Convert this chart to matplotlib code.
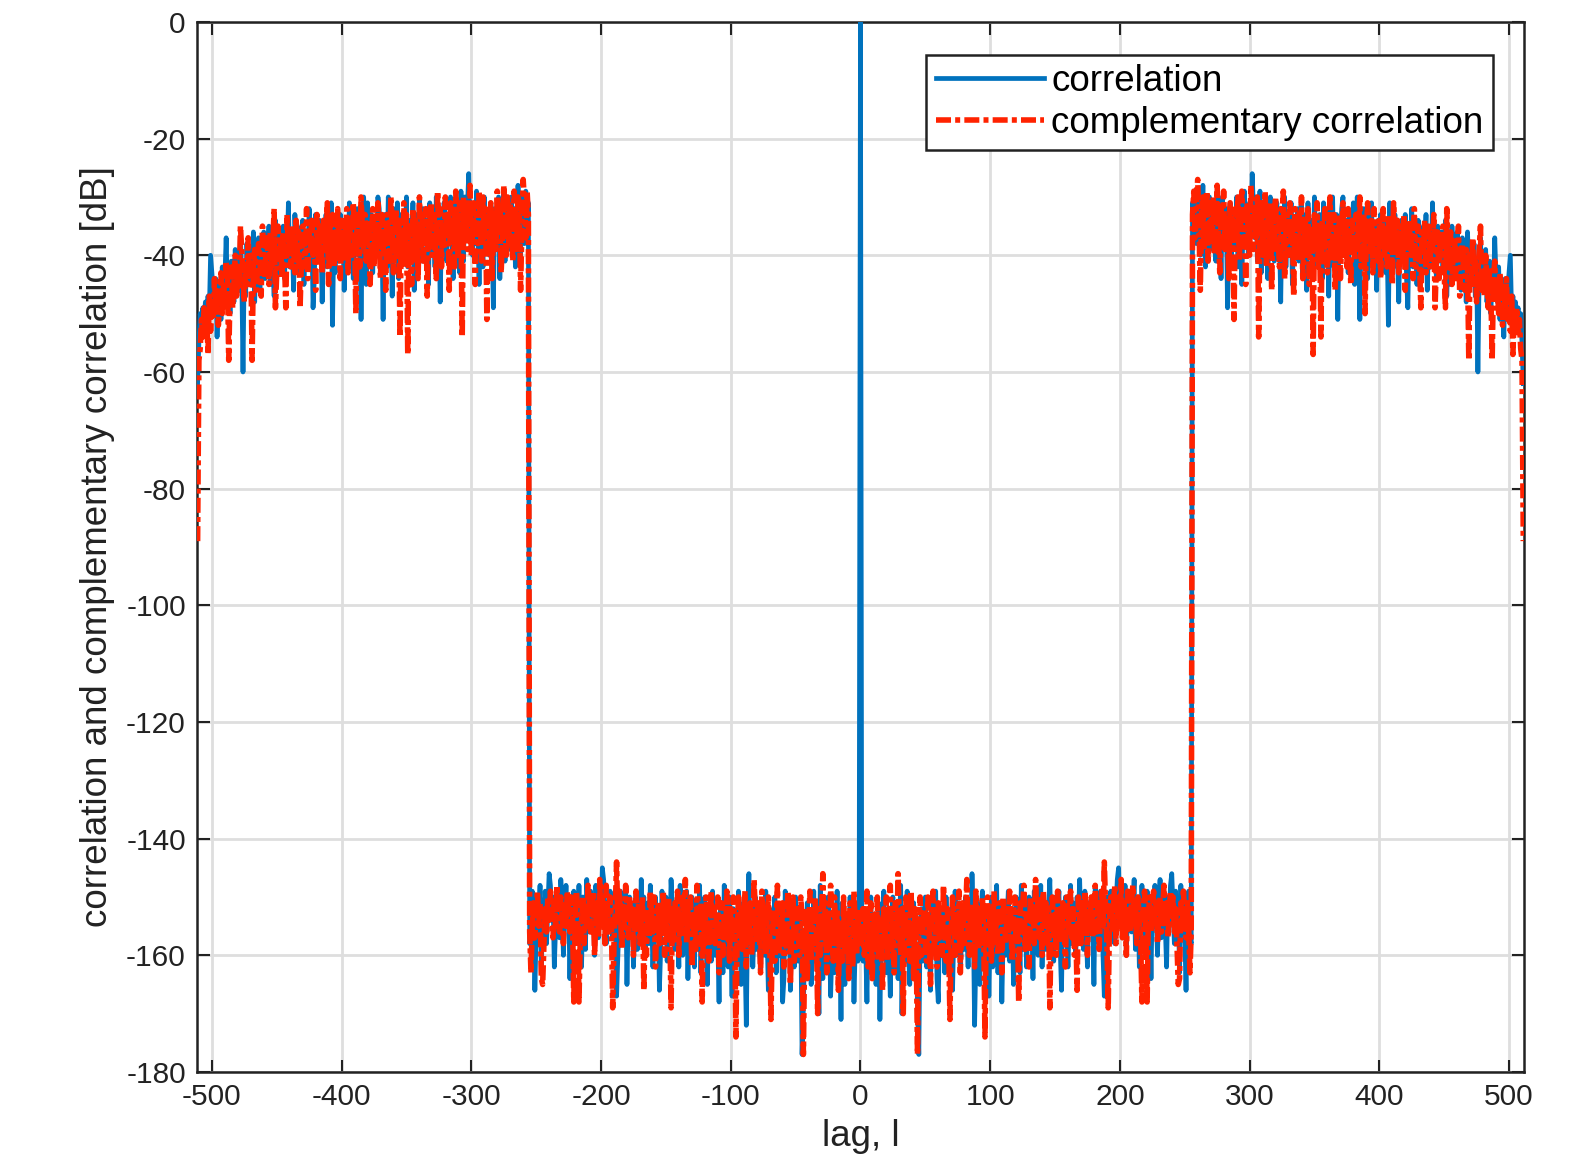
import numpy as np
import matplotlib
matplotlib.use("Agg")
import matplotlib.pyplot as plt

# magnitude of correlation (dB), lags 1..255 (floor) and 256..511 (plateau)
# the curves are symmetric in lag, so only the positive side is stored
corr_floor = [
    -156, -161, -152, -158, -168, -154, -160, -150, -163, -157, -153, -165, -159, -151, -171, -155,
    -160, -149, -157, -163, -153, -159, -167, -155, -150, -162, -158, -152, -164, -156, -148, -170,
    -157, -153, -161, -149, -159, -165, -154, -160, -151, -163, -158, -169, -177, -155, -152, -161,
    -156, -150, -162, -158, -153, -166, -151, -159, -155, -149, -164, -168, -154, -160, -152, -157,
    -163, -150, -158, -154, -161, -152, -166, -156, -149, -160, -155, -151, -163, -157, -153, -159,
    -150, -156, -162, -152, -158, -146, -154, -172, -160, -151, -157, -165, -153, -149, -161, -155,
    -159, -152, -167, -156, -150, -162, -154, -158, -148, -163, -155, -151, -168, -157, -153, -160,
    -154, -149, -161, -156, -152, -165, -158, -150, -157, -153, -163, -148, -159, -155, -151, -162,
    -156, -150, -158, -153, -164, -149, -157, -152, -160, -155, -148, -162, -154, -151, -159, -156,
    -152, -147, -158, -154, -161, -150, -156, -153, -149, -159, -166, -152, -157, -150, -155, -162,
    -153, -148, -158, -151, -156, -160, -150, -154, -147, -157, -152, -159, -149, -155, -162, -151,
    -156, -150, -153, -165, -148, -155, -151, -158, -149, -154, -160, -167, -152, -150, -157, -153,
    -149, -156, -151, -158, -152, -147, -145, -154, -150, -157, -153, -148, -160, -151, -155, -149,
    -156, -152, -147, -159, -153, -150, -162, -155, -148, -154, -151, -158, -149, -156, -152, -164,
    -150, -155, -148, -153, -160, -151, -147, -157, -152, -149, -155, -162, -150, -154, -148, -146,
    -152, -158, -149, -155, -151, -163, -148, -154, -150, -156, -166, -151, -149, -157, -158,
]
corr_plateau = [
    -31, -35, -29, -38, -33, -30, -40, -34, -28, -36, -42, -32, -37, -30, -39, -33,
    -35, -31, -41, -29, -36, -33, -44, -30, -38, -34, -32, -49, -37, -31, -40, -35,
    -33, -39, -30, -42, -36, -31, -45, -34, -29, -38, -33, -40, -31, -36, -26, -32,
    -37, -30, -41, -34, -29, -43, -35, -32, -39, -31, -44, -36, -30, -38, -33, -41,
    -34, -31, -39, -36, -48, -32, -37, -30, -42, -35, -33, -40, -31, -45, -36, -34,
    -38, -32, -41, -35, -30, -43, -37, -33, -46, -31, -39, -36, -34, -42, -30, -38,
    -35, -41, -33, -37, -44, -31, -39, -36, -32, -47, -34, -38, -30, -42, -36, -33,
    -51, -35, -39, -32, -30, -40, -37, -34, -43, -33, -38, -36, -31, -45, -35, -30,
    -37, -51, -34, -40, -32, -38, -36, -44, -33, -39, -31, -42, -35, -37, -46, -34,
    -38, -33, -41, -36, -34, -43, -37, -52, -31, -39, -35, -42, -33, -38, -40, -48,
    -36, -34, -41, -37, -33, -44, -49, -35, -39, -32, -42, -38, -36, -45, -34, -40,
    -37, -43, -35, -39, -33, -46, -38, -36, -42, -31, -40, -37, -44, -35, -41, -38,
    -36, -43, -39, -34, -47, -40, -37, -45, -35, -41, -38, -44, -36, -42, -39, -46,
    -37, -43, -40, -48, -36, -42, -45, -39, -44, -38, -47, -41, -60, -43, -37, -46,
    -42, -45, -39, -48, -44, -41, -50, -43, -46, -37, -44, -48, -42, -51, -45, -47,
    -54, -44, -49, -46, -43, -40, -50, -47, -52, -48, -51, -49, -53, -50, -55, -62,
]

# complementary correlation (dB), same lags
comp_floor = [
    -158, -152, -160, -155, -149, -162, -156, -151, -164, -157, -153, -159, -150, -161, -154, -155,
    -166, -152, -158, -150, -161, -155, -148, -159, -153, -163, -151, -157, -146, -154, -160, -152,
    -170, -155, -150, -158, -153, -161, -149, -156, -164, -152, -159, -177, -154, -150, -160, -156,
    -152, -158, -161, -150, -156, -165, -153, -149, -159, -155, -162, -151, -157, -154, -160, -148,
    -155, -161, -152, -158, -171, -156, -150, -154, -160, -153, -157, -149, -163, -155, -151, -158,
    -153, -147, -156, -160, -151, -157, -153, -162, -149, -155, -159, -152, -158, -150, -156, -174,
    -154, -150, -158, -152, -161, -155, -149, -157, -153, -160, -151, -156, -163, -150, -154, -158,
    -152, -157, -149, -155, -161, -153, -150, -158, -154, -168, -151, -156, -152, -148, -159, -153,
    -156, -162, -150, -155, -152, -158, -147, -154, -150, -157, -153, -160, -149, -155, -151, -158,
    -152, -169, -155, -150, -157, -153, -160, -149, -156, -152, -158, -151, -154, -162, -150, -156,
    -153, -149, -157, -152, -160, -155, -166, -150, -154, -158, -151, -156, -149, -153, -160, -152,
    -155, -150, -157, -152, -148, -156, -151, -159, -153, -149, -155, -144, -152, -158, -169, -154,
    -150, -156, -152, -148, -158, -153, -150, -155, -147, -157, -151, -154, -160, -149, -153, -156,
    -151, -148, -155, -152, -158, -150, -154, -157, -168, -152, -149, -155, -168, -153, -150, -156,
    -152, -149, -155, -151, -158, -153, -150, -156, -152, -148, -155, -151, -157, -153, -149, -154,
    -150, -156, -152, -158, -165, -164, -151, -155, -149, -153, -157, -151, -155, -163, -156,
]
comp_plateau = [
    -33, -29, -37, -31, -27, -35, -46, -32, -30, -39, -34, -29, -41, -36, -31, -38,
    -30, -40, -34, -28, -37, -43, -32, -35, -29, -39, -33, -36, -44, -31, -38, -34,
    -51, -32, -37, -30, -41, -35, -29, -38, -33, -45, -31, -36, -40, -28, -34, -39,
    -32, -37, -30, -54, -35, -31, -40, -36, -29, -42, -34, -38, -31, -46, -33, -37,
    -30, -39, -35, -42, -32, -37, -29, -44, -36, -33, -40, -31, -38, -35, -47, -32,
    -36, -41, -33, -39, -30, -44, -37, -34, -40, -32, -45, -38, -35, -57, -33, -39,
    -31, -42, -36, -54, -34, -40, -32, -38, -43, -35, -30, -41, -37, -33, -46, -36,
    -39, -33, -44, -37, -31, -40, -35, -42, -32, -38, -45, -34, -36, -41, -33, -39,
    -35, -30, -42, -37, -33, -50, -36, -31, -40, -38, -34, -43, -32, -39, -36, -41,
    -34, -44, -37, -32, -40, -36, -42, -33, -38, -35, -45, -31, -39, -37, -34, -43,
    -38, -35, -41, -33, -46, -37, -40, -34, -39, -36, -44, -32, -42, -38, -35, -41,
    -49, -36, -40, -34, -43, -38, -35, -42, -37, -39, -33, -49, -41, -36, -44, -38,
    -40, -35, -43, -49, -32, -38, -42, -36, -45, -39, -37, -44, -41, -35, -47, -40,
    -38, -43, -46, -39, -42, -58, -40, -44, -37, -45, -41, -48, -43, -39, -35, -46,
    -43, -47, -40, -45, -49, -42, -46, -58, -44, -41, -48, -45, -50, -43, -47, -52,
    -46, -49, -44, -51, -48, -53, -47, -57, -50, -52, -49, -54, -51, -56, -58, -89,
]

corr_zero = 0.0
comp_zero = -157.0

x_ticks = list(range(-500, 501, 100))
y_ticks = list(range(-180, 1, 20))


def full_series(floor, plateau, zero):
    pos_lag = np.concatenate([np.arange(1, 1 + len(floor)),
                              np.arange(256, 256 + len(plateau))])
    pos_val = np.concatenate([floor, plateau]).astype(float)
    lag = np.concatenate([-pos_lag[::-1], [0], pos_lag])
    val = np.concatenate([pos_val[::-1], [zero], pos_val])
    return lag, val


plt.rcParams['font.family'] = ['Liberation Sans', 'DejaVu Sans']
plt.rcParams['axes.unicode_minus'] = False

fig = plt.figure(figsize=(15.82, 11.68), dpi=100)
ax = fig.add_axes([0.1245, 0.0822, 0.8388, 0.899])

lag_c, val_c = full_series(corr_floor, corr_plateau, corr_zero)
lag_p, val_p = full_series(comp_floor, comp_plateau, comp_zero)

ax.plot(lag_c, val_c, color='#0072BD', lw=3.4, label='correlation', zorder=3)
ax.plot(lag_p, val_p, color='#FF2200', lw=4.0, linestyle=(0, (2.7, 0.75, 0.9, 0.75)),
        dash_capstyle='butt', label='complementary correlation', zorder=4)

ax.set_xlim(-511.5, 511.5)
ax.set_ylim(-180, 0)
ax.set_xticks(x_ticks)
ax.set_yticks(y_ticks)
ax.grid(True, color='#DEDEDE', lw=2.0, zorder=0)
ax.set_axisbelow(True)
ax.tick_params(direction='in', top=True, right=True, length=9, width=1.5,
               labelsize=21.5, pad=8, colors='#222222')
for s in ax.spines.values():
    s.set_linewidth(1.8)
    s.set_color('#222222')

ax.set_xlabel('lag, l', fontsize=26.5, labelpad=6, color='#222222')
ax.set_ylabel('correlation and complementary correlation [dB]', fontsize=26.5,
              labelpad=8, color='#222222')

leg = ax.legend(loc='upper right', bbox_to_anchor=(0.9766, 0.969), borderaxespad=0,
                fontsize=26.5, handlelength=2.95, handletextpad=0.2, labelspacing=0.2,
                borderpad=0.25, fancybox=False, framealpha=1, edgecolor='#222222')
leg.get_frame().set_linewidth(1.8)

fig.savefig('out.png', dpi=100)
